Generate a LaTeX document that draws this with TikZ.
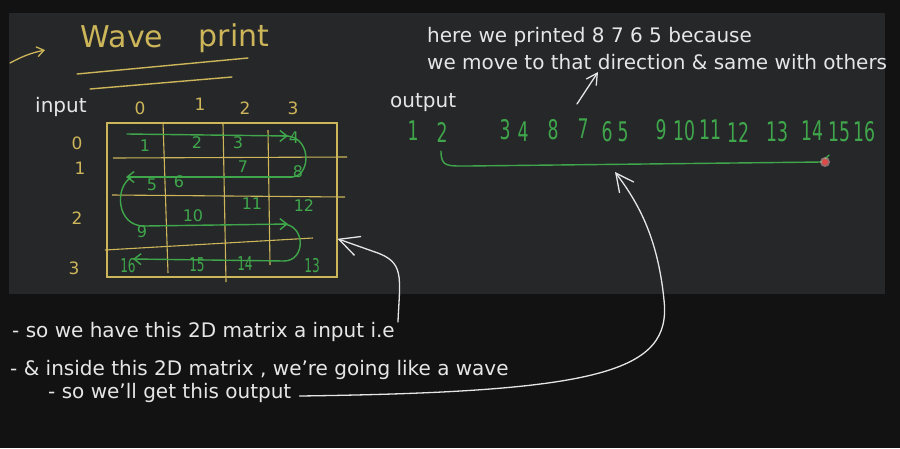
\documentclass[tikz,border=0pt]{standalone}
\usepackage{fontspec}
\setmainfont{DejaVu Sans}
\usetikzlibrary{arrows.meta,calc}
\definecolor{outerbg}{HTML}{121212}
\definecolor{panelbg}{HTML}{262729}
\definecolor{ink}{HTML}{E6E6E6}
\definecolor{ylw}{HTML}{CDB55A}
\definecolor{grn}{HTML}{3FA64B}
\definecolor{dotred}{HTML}{E04848}
\newcommand\narrowtxt[1]{\scalebox{0.64}[1]{#1}}
\tikzset{
  note/.style={text=ink, font=\fontsize{20}{23}\selectfont, anchor=west, inner sep=0pt},
  gdig/.style={text=grn, font=\fontsize{16}{18}\selectfont, inner sep=0pt},
  gdign/.style={text=grn, font=\fontsize{19}{21}\selectfont, inner sep=0pt},
  odig/.style={text=grn, font=\fontsize{27}{30}\selectfont, inner sep=0pt},
  ydig/.style={text=ylw, font=\fontsize{17}{20}\selectfont, inner sep=0pt},
  gridline/.style={draw=ylw, line width=1.1pt},
  wave/.style={draw=grn, line width=1.4pt, line cap=round},
  wavetip/.style={wave, -{Straight Barb[length=7pt,width=11pt]}},
  callout/.style={draw=ink, line width=1.3pt, line cap=round},
}
\begin{document}
\begin{tikzpicture}[x=1pt,y=-1pt]
\useasboundingbox (0,0) rectangle (900,448);
\fill[outerbg] (0,0) rectangle (900,448);
\fill[panelbg] (9,13) rectangle (885,294);

% heading
\coordinate (ha) at (10,63);
\coordinate (hb) at (45,50);
\draw[draw=ylw, line width=1.3pt, line cap=round, -{Straight Barb[length=7pt,width=10pt]}] (ha) to[bend left=8] (hb);
\node[text=ylw, font=\fontsize{30}{32}\selectfont, inner sep=0pt] (wave) at (122,37) {Wave};
\node[text=ylw, font=\fontsize{30}{32}\selectfont, inner sep=0pt] (print) at (234,38) {print};
\coordinate (u1a) at (77,74); \coordinate (u1b) at (248,58);
\coordinate (u2a) at (90,89); \coordinate (u2b) at (232,77);
\draw[draw=ylw, line width=1.4pt, line cap=round] (u1a) -- (u1b);
\draw[draw=ylw, line width=1.4pt, line cap=round] (u2a) -- (u2b);

% labels
\node[note] (inlbl) at (35,107) {input};
\node[ydig] (c0) at (140,108) {0};
\node[ydig] (c1) at (200,104) {1};
\node[ydig] (c2) at (245,108) {2};
\node[ydig] (c3) at (293,108) {3};
\node[ydig] (r0) at (77,143) {0};
\node[ydig] (r1) at (80,168) {1};
\node[ydig] (r2) at (77,218) {2};
\node[ydig] (r3) at (74,268) {3};

% matrix
\node[draw=ylw, line width=1.1pt, minimum width=230pt, minimum height=154pt, inner sep=0pt] (mat) at (222,200) {};
\coordinate (v1a) at (163,122); \coordinate (v1b) at (168,273);
\coordinate (v2a) at (223,123); \coordinate (v2b) at (226,282);
\coordinate (v3a) at (268,130); \coordinate (v3b) at (270,265);
\coordinate (h1a) at (113,158); \coordinate (h1b) at (347,157);
\coordinate (h2a) at (112,195); \coordinate (h2b) at (345,197);
\coordinate (h3a) at (105,250); \coordinate (h3b) at (313,238);
\draw[gridline] (v1a) -- (v1b);
\draw[gridline] (v2a) -- (v2b);
\draw[gridline] (v3a) -- (v3b);
\draw[gridline] (h1a) -- (h1b);
\draw[gridline] (h2a) -- (h2b);
\draw[gridline] (h3a) -- (h3b);

% wave path
\coordinate (w0a) at (127,134); \coordinate (w0b) at (288,136);
\coordinate (w1a) at (292,177); \coordinate (w1b) at (126,177);
\coordinate (w2a) at (145,226); \coordinate (w2b) at (288,224);
\coordinate (w3a) at (284,261); \coordinate (w3b) at (133,259);
\draw[wavetip] (w0a) -- (w0b);
\draw[wave] (282,136) .. controls (312,133) and (312,176) .. (w1a);
\draw[wavetip] (w1a) -- (w1b);
\draw[wave] (132,177) .. controls (114,186) and (116,227) .. (w2a);
\draw[wavetip] (w2a) -- (w2b);
\draw[wave] (282,224) .. controls (306,224) and (306,261) .. (w3a);
\draw[wavetip] (w3a) -- (w3b);

% cell numbers
\node[gdig] (n1) at (145,146) {1};
\node[gdig] (n2) at (197,143) {2};
\node[gdig] (n3) at (238,143) {3};
\node[gdig] (n4) at (294,138) {4};
\node[gdig] (n5) at (152,185) {5};
\node[gdig] (n6) at (179,182) {6};
\node[gdig] (n7) at (243,167) {7};
\node[gdig] (n8) at (298,172) {8};
\node[gdig] (n9) at (142,232) {9};
\node[gdig] (n10) at (193,216) {10};
\node[gdig] (n11) at (252,204) {11};
\node[gdig] (n12) at (304,206) {12};
\node[gdign] (n16) at (128,266) {\narrowtxt{16}};
\node[gdign] (n15) at (197,265) {\narrowtxt{15}};
\node[gdign] (n14) at (245,264) {\narrowtxt{14}};
\node[gdign] (n13) at (312,266) {\narrowtxt{13}};

% top note
\node[note] (l1) at (427,37) {here we printed 8 7 6 5 because};
\node[note] (l2) at (427,62) {we move to that direction \& same with others};
\coordinate (dtail) at (577,104);
\coordinate (dtip) at (598,72);
\draw[callout, -{Straight Barb[length=11pt,width=12pt]}] (dtail) -- (dtip);

% output
\node[note] (outlbl) at (390,103) {output};
\node[odig] (o1) at (413,131) {\narrowtxt{1}};
\node[odig] (o2) at (442,132) {\narrowtxt{2}};
\node[odig] (o3) at (505,130) {\narrowtxt{3}};
\node[odig] (o4) at (523,132) {\narrowtxt{4}};
\node[odig] (o8) at (553,130) {\narrowtxt{8}};
\node[odig] (o7) at (583,129) {\narrowtxt{7}};
\node[odig] (o6) at (607,132) {\narrowtxt{6}};
\node[odig] (o5) at (623,132) {\narrowtxt{5}};
\node[odig] (o9) at (661,130) {\narrowtxt{9}};
\node[odig] (o10) at (684,131) {\narrowtxt{10}};
\node[odig] (o11) at (710,130) {\narrowtxt{11}};
\node[odig] (o12) at (738,132) {\narrowtxt{12}};
\node[odig] (o13) at (777,132) {\narrowtxt{13}};
\node[odig] (o14) at (812,131) {\narrowtxt{14}};
\node[odig] (o15) at (839,132) {\narrowtxt{15}};
\node[odig] (o16) at (864,132) {\narrowtxt{16}};
\coordinate (ula) at (441,151);
\coordinate (ulb) at (822,162);
\draw[wave] (ula) .. controls (441,167) and (447,166) .. (468,166) -- (ulb);
\coordinate (tick) at (829,155);
\draw[wave] (ulb) -- (tick);
\fill[dotred!40, opacity=0.5] (825,162) circle (5);
\fill[dotred] (825,162) circle (3);
\coordinate (outtip) at (615,172);

% bottom notes
\node[note] (b1) at (12,332) {- so we have this 2D matrix a input i.e};
\node[note] (b2) at (10,370) {- \& inside this 2D matrix , we're going like a wave};
\node[note] (b3) at (48,393) {- so we'll get this output};

\coordinate (mattip) at ($(mat.south east)!0.25!(mat.north east)$);
\draw[callout, -{Straight Barb[length=20pt,width=20pt]}] ($(b1.east)+(3,-10)$) .. controls ($(b1.east)+(5,-55)$) and (405,262) .. (375,252) -- (mattip);
\draw[callout, -{Straight Barb[length=18pt,width=18pt]}] ($(b3.east)+(8,3)$) .. controls (600,392) and (672,372) .. (664,300) .. controls (658,240) and (640,205) .. (outtip);
\end{tikzpicture}
\end{document}
